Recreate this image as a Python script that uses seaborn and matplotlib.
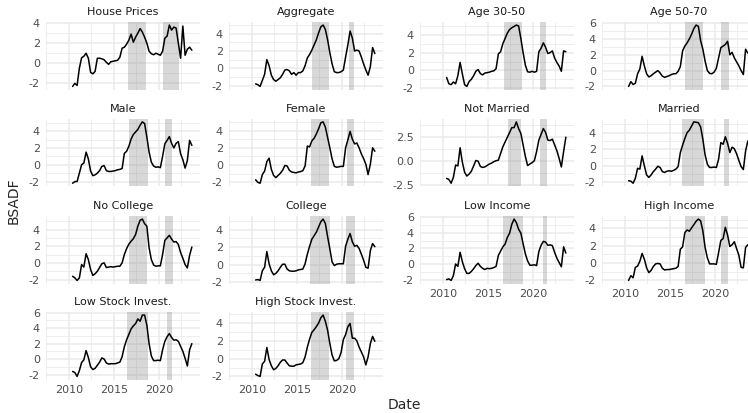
import numpy as np
import matplotlib
matplotlib.use("Agg")
import matplotlib.pyplot as plt
from matplotlib.ticker import MultipleLocator, AutoMinorLocator, FormatStrFormatter
import seaborn as sns

# quarterly observation dates (decimal years)
dates = np.arange(2010.4, 2023.66, 0.25)

house_prices = [-2.3, -2.0, -2.2, -0.5, 0.55, 0.7, 1.0, 0.5, -0.9, -1.05, -0.8, 0.5, 0.5, 0.45,
                0.35, 0.1, -0.1, 0.15, 0.2, 0.25, 0.3, 0.6, 1.5, 1.6, 1.9, 2.3, 2.9, 2.1, 2.6, 3.0,
                3.45, 3.1, 2.6, 2.0, 1.2, 0.95, 0.85, 1.0, 0.9, 0.8, 1.2, 2.5, 2.7, 3.8, 3.3, 3.6,
                3.5, 2.0, 0.5, 3.7, 0.8, 1.4, 1.6, 1.3]
aggregate = [-1.8, -1.9, -2.1, -1.4, -0.7, 1.0, 0.3, -0.8, -1.3, -1.5, -1.3, -1.1, -0.7, -0.2,
             -0.15, -0.3, -0.7, -0.5, -0.8, -0.5, -0.5, -0.3, 0.3, 1.2, 1.6, 2.1, 2.7, 3.3, 4.1, 4.8,
             5.0, 4.5, 3.3, 1.8, 0.5, -0.4, -0.5, -0.5, -0.4, -0.2, 1.3, 2.7, 4.3, 3.5, 2.0, 2.1,
             2.0, 1.3, 0.5, -0.2, -0.8, 0.2, 2.4, 1.7]
age_30_50 = [-0.8, -1.5, -1.6, -1.3, -1.5, -0.6, 0.9, -0.4, -1.6, -1.8, -1.25, -1.0, -0.6, -0.1,
             0.1, -0.35, -0.5, -0.3, -0.25, -0.2, -0.1, -0.05, 0.2, 1.85, 2.1, 3.0, 3.6, 4.2, 4.6, 4.8,
             4.95, 5.1, 5.0, 3.6, 2.0, 0.6, -0.15, -0.2, -0.1, -0.2, -0.1, 2.1, 2.5, 3.1, 2.6, 1.9,
             2.0, 2.2, 1.4, 0.9, 0.5, -0.1, 2.2, 2.1]
age_50_70 = [-2.0, -1.4, -1.75, -1.6, -0.4, 0.2, 1.8, 0.6, -0.4, -0.8, -0.65, -0.4, -0.2, 0.0,
             -0.3, -0.7, -0.85, -0.75, -0.65, -0.5, -0.4, -0.4, -0.1, 0.5, 2.5, 3.1, 3.5, 4.0, 4.6, 5.3,
             5.75, 5.6, 3.8, 2.7, 1.2, 0.0, -0.35, -0.4, -0.2, 0.3, 1.6, 2.9, 3.1, 3.3, 3.7, 2.0,
             2.3, 1.6, 1.1, 0.6, 0.0, -0.5, 2.7, 2.2]
male = [-2.2, -2.0, -2.0, -1.0, 0.0, 0.2, 1.5, 0.7, -0.75, -1.3, -1.2, -1.0, -0.7, -0.2,
        -0.1, -0.7, -0.8, -0.8, -0.75, -0.7, -0.6, -0.55, -0.45, 1.35, 1.6, 2.2, 3.05, 3.6, 3.9, 4.2,
        4.7, 5.1, 4.9, 3.3, 1.5, 0.3, -0.15, -0.3, -0.25, -0.35, 1.0, 2.5, 2.9, 3.35, 2.55, 2.0,
        2.55, 2.75, 1.3, 0.6, -0.4, 0.5, 2.9, 2.3]
female = [-1.7, -2.0, -2.1, -1.1, -0.7, 0.4, 0.8, -0.5, -1.2, -1.45, -1.2, -0.95, -0.6, -0.05,
          -0.1, -0.6, -0.8, -0.85, -0.9, -0.8, -0.75, -0.65, -0.1, 2.2, 2.1, 2.8, 3.1, 3.6, 4.2, 4.9,
          5.0, 4.4, 3.2, 2.0, 0.7, -0.15, -0.25, -0.2, -0.15, -0.15, 2.0, 2.9, 3.9, 3.0, 2.45, 2.55,
          2.0, 1.3, 0.75, 0.1, -1.1, 0.1, 2.0, 1.6]
not_married = [-1.8, -1.9, -2.3, -1.7, -0.4, -0.5, 1.4, -0.1, -1.15, -1.55, -1.35, -1.05, -0.5, 0.07,
               0.0, -0.55, -0.65, -0.6, -0.45, -0.3, -0.2, -0.05, 0.05, 0.1, 0.8, 1.5, 2.0, 2.5, 3.0, 3.5,
               3.5, 4.1, 3.4, 2.9, 1.7, 0.5, -0.45, -0.3, -0.15, 0.05, 1.0, 2.2, 2.8, 3.4, 3.0, 2.2,
               2.15, 2.3, 1.7, 1.1, 0.3, -0.6, 1.0, 2.5]
married = [-1.8, -1.85, -2.1, -1.5, -0.3, -0.4, 1.2, 0.0, -1.1, -1.4, -1.1, -0.7, -0.4, -0.05,
           -0.2, -0.7, -0.8, -0.65, -0.6, -0.65, -0.55, -0.4, -0.1, 1.6, 2.5, 3.3, 4.0, 4.3, 4.8, 5.3,
           5.25, 5.2, 4.7, 3.2, 1.3, 0.2, -0.2, -0.2, -0.15, -0.2, 0.8, 2.8, 2.6, 3.5, 2.7, 1.6,
           2.25, 2.05, 1.45, 0.65, -0.1, -0.45, 1.8, 3.0]
no_college = [-1.6, -1.8, -2.1, -1.8, -0.2, -0.5, 1.1, 0.4, -0.8, -1.5, -1.3, -1.0, -0.55, -0.1,
              0.0, -0.55, -0.5, -0.45, -0.5, -0.45, -0.4, -0.4, 0.0, 1.0, 1.7, 2.25, 2.6, 2.9, 3.4, 4.4,
              5.1, 5.25, 4.7, 4.4, 1.8, 0.4, -0.25, -0.4, -0.35, -0.35, 1.0, 2.7, 3.0, 3.3, 2.85, 2.5,
              2.55, 2.2, 1.25, 0.55, -0.2, -0.6, 0.9, 1.9]
college = [-1.75, -1.7, -1.8, -0.7, -0.3, 1.5, 0.1, -0.7, -1.15, -1.0, -0.7, -0.3, 0.05, 0.05,
           -0.5, -0.7, -0.75, -0.75, -0.7, -0.6, -0.55, -0.5, 0.1, 1.2, 2.1, 2.9, 3.3, 3.7, 4.3, 4.9,
           5.2, 4.7, 3.2, 1.8, 0.3, -0.1, 0.05, 0.1, 0.1, 0.1, 2.1, 2.9, 3.55, 2.6, 2.1, 2.2,
           1.85, 1.2, 0.5, -0.3, -0.4, 1.6, 2.4, 2.05]
low_income = [-2.0, -1.9, -2.1, -1.5, 0.0, -0.3, 1.5, 0.3, -0.6, -1.2, -1.2, -0.95, -0.6, -0.2,
              0.1, -0.3, -0.55, -0.7, -0.55, -0.6, -0.55, -0.45, -0.3, 1.1, 1.65, 2.2, 2.55, 3.4, 3.95, 5.1,
              5.75, 5.3, 4.45, 3.95, 2.6, 1.3, 0.4, -0.15, -0.15, -0.1, -0.2, 1.6, 2.4, 2.9, 2.8, 2.4,
              2.45, 2.35, 1.5, 0.75, 0.2, -0.35, 2.2, 1.4]
high_income = [-2.0, -1.45, -1.7, -0.5, -0.35, 0.2, 1.1, 0.45, -0.55, -1.1, -0.85, -0.4, -0.1, -0.05,
               -0.1, -0.6, -0.8, -0.75, -0.75, -0.7, -0.65, -0.6, -0.4, 1.6, 1.85, 3.5, 3.8, 3.65, 4.05, 4.4,
               4.8, 5.05, 4.85, 3.7, 1.8, 0.6, -0.1, -0.1, -0.1, -0.15, 1.2, 2.6, 2.8, 4.1, 3.2, 1.9,
               2.1, 2.45, 1.65, 0.9, -0.5, -0.55, 1.8, 2.1]
low_stock = [-1.6, -1.75, -2.25, -1.5, -0.45, -0.1, 1.1, 0.2, -1.0, -1.35, -1.2, -0.8, -0.4, 0.15,
             0.0, -0.5, -0.65, -0.6, -0.6, -0.6, -0.5, -0.4, 0.3, 1.6, 2.5, 3.2, 3.9, 4.3, 4.6, 5.2,
             4.9, 5.7, 5.7, 4.4, 2.0, 0.4, -0.2, -0.2, -0.15, -0.2, 1.2, 2.3, 2.9, 3.3, 2.8, 2.45,
             2.5, 2.3, 1.65, 1.0, 0.1, -0.9, 1.2, 2.0]
high_stock = [-1.75, -1.9, -2.0, -0.6, -0.3, 1.25, -0.1, -0.8, -1.25, -1.1, -0.8, -0.4, -0.15, -0.15,
              -0.5, -0.8, -0.85, -0.85, -0.7, -0.65, -0.6, -0.45, 0.2, 1.3, 2.2, 2.95, 3.25, 3.6, 4.0, 4.6,
              4.9, 4.2, 3.2, 1.7, 0.4, -0.25, -0.2, 0.0, 0.7, 2.15, 2.7, 3.6, 3.95, 2.3, 2.3, 2.0,
              1.3, 0.75, 0.2, -0.7, 0.2, 1.7, 2.5, 1.95]

panel_names = ["House Prices", "Aggregate", "Age 30-50", "Age 50-70",
               "Male", "Female", "Not Married", "Married",
               "No College", "College", "Low Income", "High Income",
               "Low Stock Invest.", "High Stock Invest."]
panel_values = [house_prices, aggregate, age_30_50, age_50_70,
                male, female, not_married, married,
                no_college, college, low_income, high_income,
                low_stock, high_stock]

# bubble periods (start, end) for each panel
bubble_periods = [
    [(2016.55, 2018.55), (2020.48, 2022.2)],
    [(2016.67, 2018.6), (2020.78, 2021.33)],
    [(2016.78, 2018.74), (2020.78, 2021.44)],
    [(2016.67, 2018.7), (2020.63, 2021.56)],
    [(2016.7, 2018.74), (2020.63, 2021.5)],
    [(2016.52, 2018.6), (2020.52, 2021.33)],
    [(2017.26, 2018.63), (2020.78, 2021.52)],
    [(2016.37, 2018.78), (2021.0, 2021.56)],
    [(2016.67, 2018.7), (2020.67, 2021.6)],
    [(2016.44, 2018.67), (2020.44, 2021.44)],
    [(2016.7, 2018.85), (2021.07, 2021.52)],
    [(2016.67, 2018.89), (2020.63, 2021.48)],
    [(2016.4, 2018.74), (2020.93, 2021.48)],
    [(2016.52, 2018.6), (2020.44, 2021.33)],
]

sns.set_style("white")
plt.rcParams["font.family"] = ["DejaVu Sans"]
plt.rcParams["axes.unicode_minus"] = False

W, H = 748, 413
fig = plt.figure(figsize=(W / 100, H / 100), dpi=100)

col_left = [45.6, 228.6, 419.6, 601.6]
row_top = [22, 118.8, 216, 312]
pw, ph = 154.8, 67.5
grid_col = "#EBEBEB"

for i, (name, vals) in enumerate(zip(panel_names, panel_values)):
    r, c = divmod(i, 4)
    ax = fig.add_axes([col_left[c] / W, 1 - (row_top[r] + ph) / H, pw / W, ph / H])
    for s, e in bubble_periods[i]:
        ax.axvspan(s, e, color="grey", alpha=0.3, lw=0)
    sns.lineplot(x=dates, y=vals, ax=ax, color="black", linewidth=1.1)
    ax.set_xlim(2007.4, 2024.6)
    ax.margins(y=0.05)
    step = 2.5 if name == "Not Married" else 2
    ax.yaxis.set_major_locator(MultipleLocator(step))
    ax.yaxis.set_minor_locator(AutoMinorLocator(2))
    ax.yaxis.set_major_formatter(FormatStrFormatter("%.1f" if name == "Not Married" else "%g"))
    ax.xaxis.set_major_locator(MultipleLocator(5))
    ax.xaxis.set_minor_locator(AutoMinorLocator(2))
    ax.grid(which="major", color=grid_col, lw=1.1)
    ax.grid(which="minor", color=grid_col, lw=0.6)
    ax.set_axisbelow(True)
    for sp in ax.spines.values():
        sp.set_visible(False)
    ax.tick_params(which="both", length=0, labelsize=8, labelcolor="#4D4D4D", pad=4)
    ax.set_xlabel("")
    ax.set_ylabel("")
    bottom = (r == 3) or (r == 2 and c >= 2)
    if not bottom:
        ax.tick_params(labelbottom=False)
    ax.set_title(name, fontsize=8, color="#1A1A1A", pad=5)

fig.text(404 / W, 1 - 405 / H, "Date", ha="center", va="center", fontsize=10)
fig.text(14 / W, 1 - 201 / H, "BSADF", ha="center", va="center", rotation=90, fontsize=10)

fig.savefig("out.png", dpi=100)
